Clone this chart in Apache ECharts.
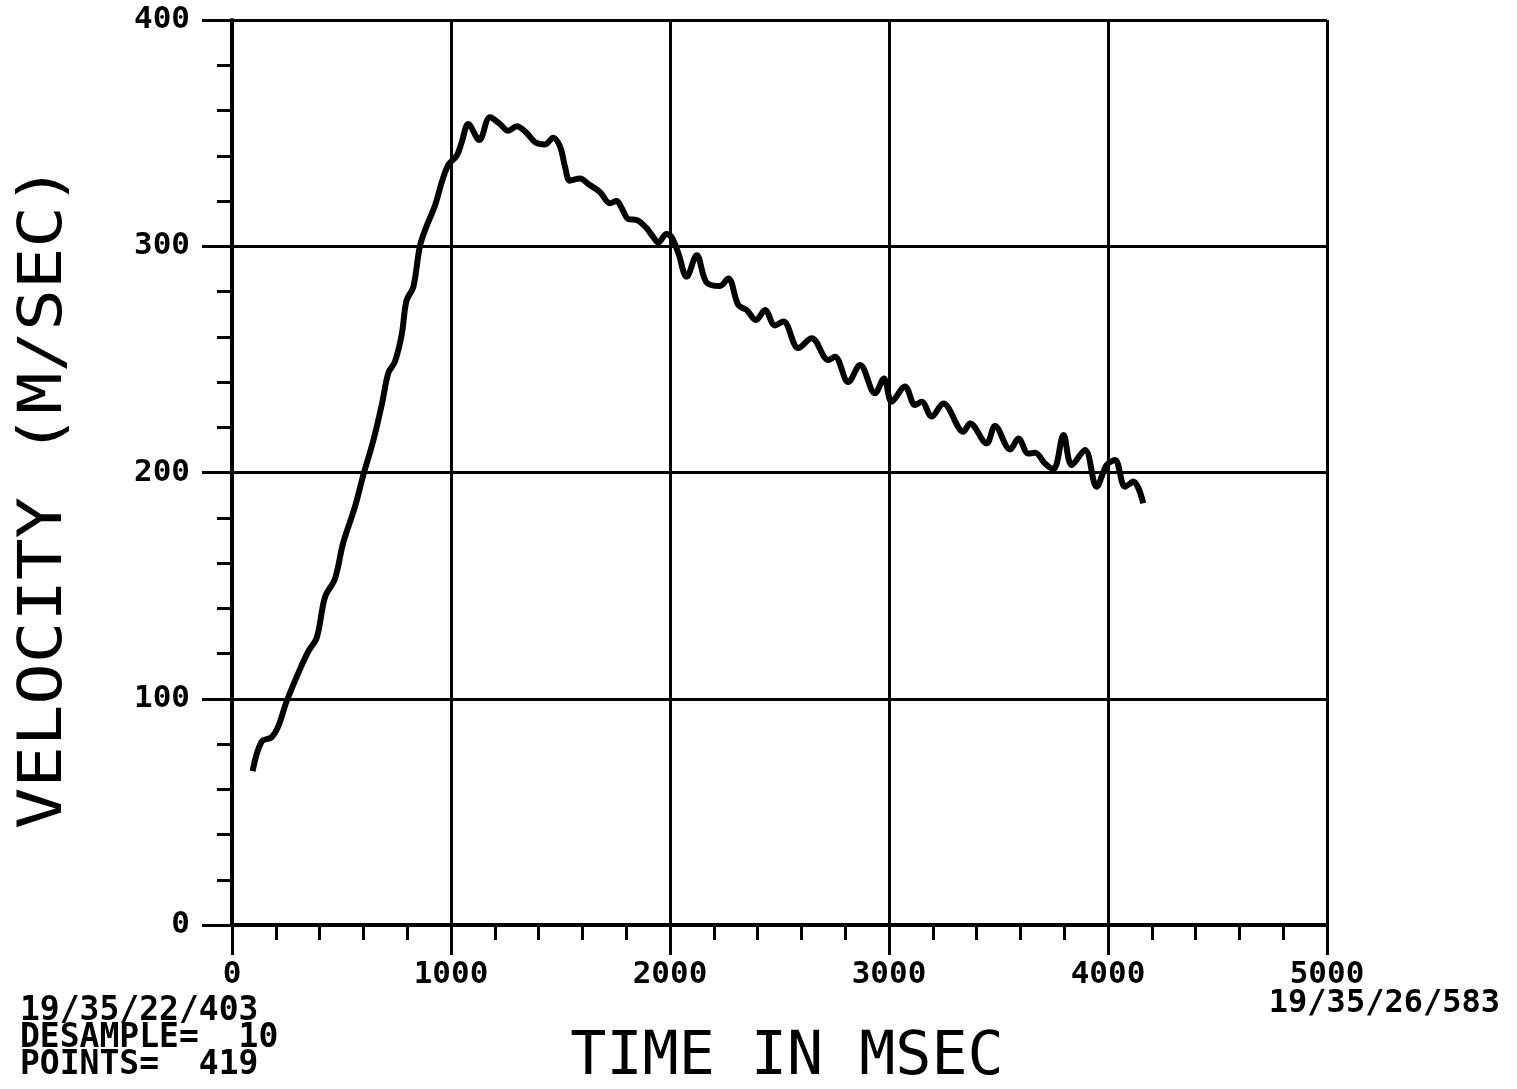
<!DOCTYPE html>
<html>
<head>
<meta charset="utf-8">
<script src="https://cdn.jsdelivr.net/npm/echarts@6/dist/echarts.min.js"></script>
<style>
html,body{margin:0;padding:0;background:#fff;}
#chart{width:1517px;height:1089px;}
</style>
</head>
<body>
<div id="chart"></div>
<script>
// Time (ms) and velocity (m/s)
const timeMs = [94,135,181,212,250,310,349,387,425,470,508,562,600,645,684,714,744,775,797,828,858,889,927,957,988,1026,1049,1079,1129,1178,1224,1260,1300,1346,1384,1429,1467,1498,1521,1543,1589,1627,1680,1726,1756,1779,1810,1848,1893,1924,1946,1984,2007,2038,2076,2122,2167,2228,2266,2312,2350,2393,2434,2479,2518,2586,2647,2723,2753,2814,2868,2936,2977,3012,3073,3119,3149,3195,3248,3340,3370,3446,3484,3553,3591,3636,3667,3712,3751,3797,3834,3895,3948,3994,4032,4078,4116,4161];
const velocity = [68,81,83,88,99,113,121,127,145,153,169,185,199,214,230,244,249,261,276,282,300,309,318,328,336,340,346,354,347,357,354,351,353,350,346,345,348,344,335,329,330,327.5,324,319,320,317,312,311.6,308,304,301.6,305.4,304,297,286.5,296,284,282.4,285.8,274,271.8,267.4,271.8,265,266.7,255,259.3,249.7,251.2,240,247.5,235,241.6,231.3,238,229.8,231.3,224.7,230.5,218,221.7,212.9,220.5,210.2,215,208.4,208.7,204,201.5,216.6,203.3,210,193.7,203.3,205.5,193.7,196,186.4];
const xTicks = [0,1000,2000,3000,4000,5000];
const yTicks = [0,100,200,300,400];
const yTitle = 'VELOCITY (M/SEC)';
const xTitle = 'TIME IN MSEC';
const startStamp = '19/35/22/403';
const endStamp = '19/35/26/583';
const desampleLine = 'DESAMPLE=  10';
const pointsLine = 'POINTS=  419';

const seriesData = timeMs.map((t, i) => [t, velocity[i]]);
const chart = echarts.init(document.getElementById('chart'));
const mono = 'DejaVu Sans Mono';
const axisCommon = {
  axisLine: {show: true, lineStyle: {color: '#000', width: 4}},
  axisTick: {show: true, inside: false, length: 30, lineStyle: {color: '#000', width: 3}},
  minorTick: {show: true, splitNumber: 5, length: 15, lineStyle: {color: '#000', width: 3}},
  splitLine: {show: true, lineStyle: {color: '#000', width: 3}},
  axisLabel: {color: '#000', fontFamily: mono, fontWeight: 'bold', fontSize: 31, formatter: v => String(v)}
};
chart.setOption({
  backgroundColor: '#fff',
  animation: false,
  grid: {left: 232, right: 190, top: 20, bottom: 164, containLabel: false},
  xAxis: Object.assign({}, axisCommon, {
    type: 'value', min: xTicks[0], max: xTicks[xTicks.length - 1], interval: 1000,
    axisLabel: Object.assign({}, axisCommon.axisLabel, {margin: 34, showMaxLabel: true, showMinLabel: true})
  }),
  yAxis: Object.assign({}, axisCommon, {
    type: 'value', min: yTicks[0], max: yTicks[yTicks.length - 1], interval: 100,
    axisLabel: Object.assign({}, axisCommon.axisLabel, {margin: 42})
  }),
  series: [{
    type: 'line', data: seriesData, showSymbol: false, smooth: 0.35,
    lineStyle: {color: '#000', width: 6}, z: 5
  }],
  graphic: [
    {type: 'text', x: 45, y: 497, rotation: Math.PI / 2, scaleX: 1.15,
     style: {text: yTitle, font: '60px "DejaVu Sans Mono"', fill: '#000', textAlign: 'center', textVerticalAlign: 'middle'}},
    {type: 'text', x: 787, y: 1058,
     style: {text: xTitle, font: '60px "DejaVu Sans Mono"', fill: '#000', textAlign: 'center', textVerticalAlign: 'middle'}},
    {type: 'text', x: 20, y: 1011,
     style: {text: startStamp, font: 'bold 33px "DejaVu Sans Mono"', fill: '#000', textAlign: 'left', textVerticalAlign: 'middle'}},
    {type: 'text', x: 20, y: 1038,
     style: {text: desampleLine, font: 'bold 33px "DejaVu Sans Mono"', fill: '#000', textAlign: 'left', textVerticalAlign: 'middle'}},
    {type: 'text', x: 20, y: 1065,
     style: {text: pointsLine, font: 'bold 33px "DejaVu Sans Mono"', fill: '#000', textAlign: 'left', textVerticalAlign: 'middle'}},
    {type: 'text', x: 1500, y: 1004,
     style: {text: endStamp, font: 'bold 32px "DejaVu Sans Mono"', fill: '#000', textAlign: 'right', textVerticalAlign: 'middle'}}
  ]
});
</script>
</body>
</html>
